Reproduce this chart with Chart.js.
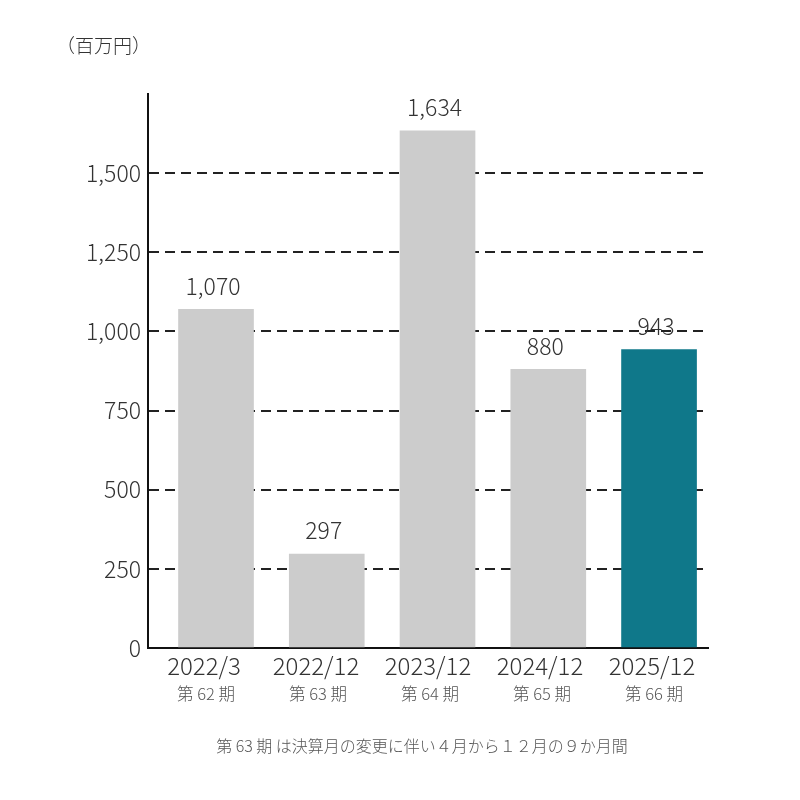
<!DOCTYPE html>
<html><head><meta charset="utf-8">
<script src="https://cdn.jsdelivr.net/npm/chart.js@4/dist/chart.umd.min.js"></script>
<style>html,body{margin:0;padding:0;background:#fff}canvas{display:block}</style>
</head><body>
<canvas id="c" width="800" height="800"></canvas>
<script>
const categories = ["2022/3", "2022/12", "2023/12", "2024/12", "2025/12"];
const periods = ["第 62 期", "第 63 期", "第 64 期", "第 65 期", "第 66 期"];
const values = [1070, 297, 1634, 880, 943];
const barColors = ["#cccccc", "#cccccc", "#cccccc", "#cccccc", "#0f788a"];
const yTicks = [0, 250, 500, 750, 1000, 1250, 1500];
const unitLabel = "（百万円）";
const footnote = "第 63 期 は決算月の変更に伴い４月から１２月の９か月間";

const FONT = '"Noto Sans CJK JP", "Noto Sans", sans-serif';
const W = 200;

const extras = {
  id: 'extras',
  afterDraw(chart) {
    const ctx = chart.ctx;
    const x = chart.scales.x;
    const meta = chart.getDatasetMeta(0);
    ctx.save();
    ctx.font = W + ' 23px ' + FONT;
    ctx.fillStyle = '#333';
    ctx.textAlign = 'center';
    ctx.textBaseline = 'bottom';
    meta.data.forEach((bar, i) => {
      ctx.fillText(values[i].toLocaleString('en-US'), bar.x - 3, bar.y - 12);
    });
    ctx.font = W + ' 16.5px ' + FONT;
    ctx.fillStyle = '#555';
    ctx.textBaseline = 'middle';
    periods.forEach((p, i) => {
      ctx.fillText(p, x.getPixelForTick(i) + 2, 694);
    });
    ctx.font = W + ' 19px ' + FONT;
    ctx.fillStyle = '#333';
    ctx.textAlign = 'left';
    ctx.fillText(unitLabel, 56, 46);
    ctx.font = W + ' 16px ' + FONT;
    ctx.fillStyle = '#555';
    ctx.textAlign = 'center';
    ctx.fillText(footnote, 422, 746);
    ctx.restore();
  }
};

new Chart(document.getElementById('c'), {
  type: 'bar',
  data: {
    labels: categories,
    datasets: [{
      xAxisID: 'xb',
      data: categories.map((c, i) => ({ x: i, y: values[i] })),
      backgroundColor: barColors,
      borderWidth: 0,
      barThickness: 75
    }]
  },
  options: {
    responsive: false,
    animation: false,
    layout: { padding: { top: 94, right: 92, left: 0, bottom: 0 } },
    plugins: { legend: { display: false }, tooltip: { enabled: false } },
    scales: {
      x: {
        type: 'category',
        grid: { display: false, drawTicks: false },
        border: { display: true, color: '#111', width: 2 },
        ticks: {
          color: '#333',
          font: { family: FONT, size: 24, weight: W },
          padding: 3,
          maxRotation: 0
        },
        afterFit(scale) { scale.height = 152; }
      },
      xb: {
        type: 'linear',
        display: false,
        min: -0.614,
        max: 4.442,
        offset: false
      },
      y: {
        min: 0,
        max: 1750,
        afterBuildTicks(scale) {
          scale.ticks = yTicks.concat([1750]).map(v => ({ value: v }));
        },
        grid: {
          drawTicks: false,
          color: (c) => (c.tick && (c.tick.value === 0 || c.tick.value === 1750)) ? 'rgba(0,0,0,0)' : '#222',
          lineWidth: 2
        },
        border: { display: true, color: '#111', width: 2, dash: [10, 6] },
        ticks: {
          color: '#333',
          font: { family: FONT, size: 23, weight: W },
          padding: 7,
          callback: (v) => (v === 1750 ? '' : v.toLocaleString('en-US'))
        },
        afterFit(scale) { scale.width = 148; }
      }
    }
  },
  plugins: [extras]
});
</script>
</body></html>
